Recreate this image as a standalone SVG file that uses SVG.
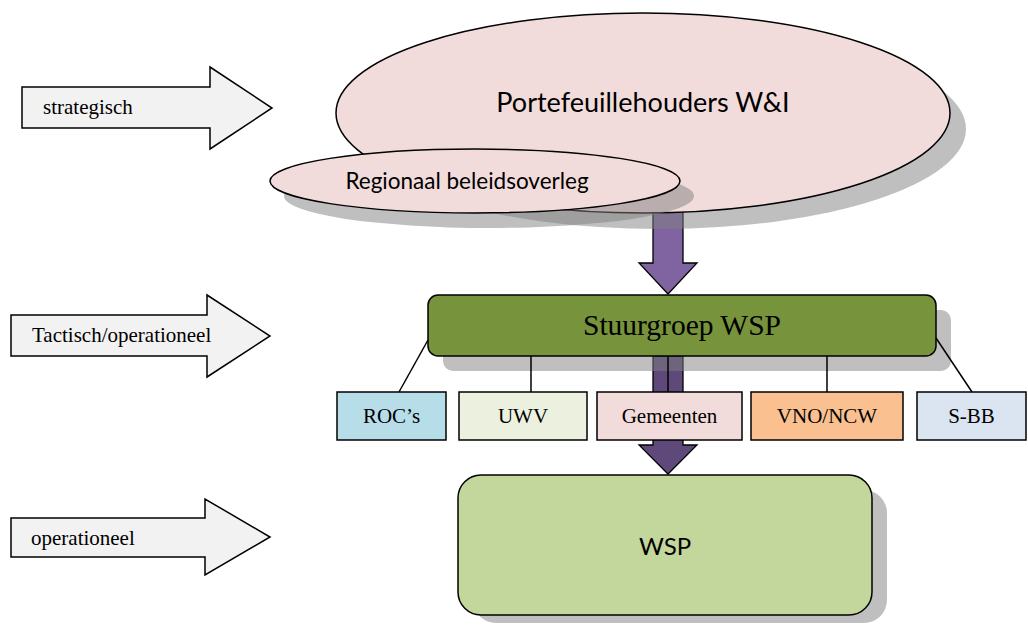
<svg xmlns="http://www.w3.org/2000/svg" width="1028" height="626" viewBox="0 0 1028 626">
  <style>
    .lvl { fill: #f2f2f2; stroke: #000; stroke-width: 1.5; stroke-linejoin: miter; }
    .lvl-text { font-family: "Liberation Serif", "Times New Roman", serif; font-size: 21px; fill: #000; }
    .shadow { fill: #808080; fill-opacity: 0.5; stroke: none; }
    .edge { stroke: #000; stroke-width: 1.5; fill: none; }
    .flow-up { fill: #8064a2; stroke: #000; stroke-width: 1.3; }
    .flow-low { fill: #5f497a; stroke: #000; stroke-width: 1.3; }
    .cal { font-family: Lato, "Open Sans", "Liberation Sans", sans-serif; fill: #000; text-anchor: middle; }
    .serif { font-family: "Liberation Serif", "Times New Roman", serif; fill: #000; text-anchor: middle; }
    .box { stroke: #000; stroke-width: 1.5; }
  </style>

  <!-- level indicators on the left -->
  <g id="level-strategisch">
    <path class="lvl" d="M22,87 H210 V67 L272,108 L210,149 V128 H22 Z"/>
    <text class="lvl-text" x="43" y="114">strategisch</text>
  </g>
  <g id="level-tactisch">
    <path class="lvl" d="M11,315 H207 V295 L270,336 L207,377 V356 H11 Z"/>
    <text class="lvl-text" x="32" y="342">Tactisch/operationeel</text>
  </g>
  <g id="level-operationeel">
    <path class="lvl" d="M11,518 H205 V499 L270,537 L205,575 V557 H11 Z"/>
    <text class="lvl-text" x="31" y="545">operationeel</text>
  </g>

  <!-- block arrows between the tiers -->
  <g id="flows">
    <path class="flow-up" d="M653,195 H683 V263 H697 L668,294 L639,263 H653 Z"/>
    <path class="flow-low" d="M653,356 H683 V445 H697 L668,474 L639,445 H653 Z"/>
  </g>

  <g id="portefeuillehouders">
    <ellipse class="shadow" cx="659" cy="129" rx="307" ry="100"/>
    <ellipse cx="643" cy="113" rx="307" ry="100" fill="#f2dcdb" class="box"/>
    <text class="cal" x="643" y="112" font-size="27">Portefeuillehouders W&amp;I</text>
  </g>

  <g id="beleidsoverleg">
    <ellipse class="shadow" cx="489" cy="196" rx="205" ry="32"/>
    <ellipse cx="475" cy="181" rx="205" ry="32" fill="#f2dcdb" class="box"/>
    <text class="cal" x="467" y="189" font-size="22.5">Regionaal beleidsoverleg</text>
  </g>

  <g id="stuurgroep">
    <rect class="shadow" x="443" y="310" width="508" height="61" rx="10"/>
    <rect class="box" x="428" y="295" width="508" height="61" rx="10" fill="#77933c"/>
    <text class="serif" x="682" y="335" font-size="29.5">Stuurgroep WSP</text>
  </g>

  <!-- connectors from the steering group to the partners -->
  <g id="connectors">
    <line class="edge" x1="428" y1="340" x2="399" y2="392"/>
    <line class="edge" x1="531" y1="356" x2="531" y2="392"/>
    <line class="edge" x1="668" y1="356" x2="668" y2="392"/>
    <line class="edge" x1="827" y1="356" x2="827" y2="392"/>
    <line class="edge" x1="936" y1="338" x2="972" y2="392"/>
  </g>

  <g id="roc">
    <rect class="box" x="337" y="392" width="109" height="48" fill="#b7dde8"/>
    <text class="serif" x="391.5" y="423" font-size="21">ROC’s</text>
  </g>
  <g id="uwv">
    <rect class="box" x="459" y="392" width="128" height="48" fill="#ebf1de"/>
    <text class="serif" x="523" y="423" font-size="21">UWV</text>
  </g>
  <g id="gemeenten">
    <rect class="box" x="597" y="392" width="145" height="48" fill="#f2dcdb"/>
    <text class="serif" x="669.5" y="423" font-size="21">Gemeenten</text>
  </g>
  <g id="vno-ncw">
    <rect class="box" x="751" y="392" width="152" height="48" fill="#fac090"/>
    <text class="serif" x="827" y="423" font-size="21">VNO/NCW</text>
  </g>
  <g id="s-bb">
    <rect class="box" x="917" y="392" width="109" height="48" fill="#dbe5f1"/>
    <text class="serif" x="971.5" y="423" font-size="21">S-BB</text>
  </g>

  <g id="wsp">
    <rect class="shadow" x="473" y="490" width="414" height="133" rx="23"/>
    <rect class="box" x="458" y="475" width="414" height="140" rx="23" fill="#c3d69b"/>
    <text class="cal" x="665" y="555" font-size="24">WSP</text>
  </g>
</svg>
